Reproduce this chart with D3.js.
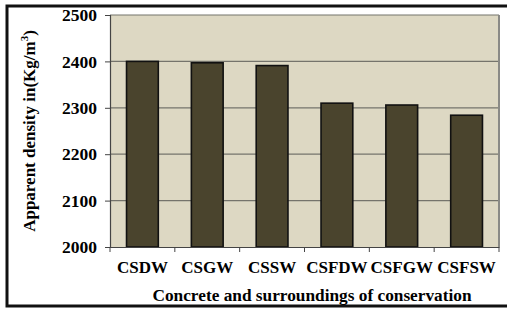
<!DOCTYPE html>
<html>
<head>
<meta charset="utf-8">
<script src="https://cdn.jsdelivr.net/npm/d3@7"></script>
<style>
  body { margin: 0; background: #fff; }
</style>
</head>
<body>
<div id="chart"></div>
<script>
const categories = ["CSDW", "CSGW", "CSSW", "CSFDW", "CSFGW", "CSFSW"];
const density = [2400, 2397, 2391, 2310, 2306, 2284];
const yTicks = [2000, 2100, 2200, 2300, 2400, 2500];

const W = 507, H = 311;
const plot = {left: 110, top: 15, right: 499, bottom: 247};
const FONT = "'Liberation Serif', 'Times New Roman', serif";

const svg = d3.select("#chart").append("svg")
  .attr("width", W).attr("height", H);

// outer frame
svg.append("rect")
  .attr("x", 7).attr("y", 6).attr("width", 520).attr("height", 300)
  .attr("fill", "none").attr("stroke", "#111").attr("stroke-width", 3);

// plot background
svg.append("rect")
  .attr("x", plot.left).attr("y", plot.top)
  .attr("width", plot.right - plot.left).attr("height", plot.bottom - plot.top)
  .attr("fill", "#ddd8c3");

const x = d3.scaleBand().domain(categories).range([plot.left, plot.right]).padding(0);
const y = d3.scaleLinear().domain([2000, 2500]).range([plot.bottom, plot.top]);

// gridlines
svg.append("g").selectAll("line")
  .data(yTicks.slice(1))
  .enter().append("line")
  .attr("x1", plot.left).attr("x2", plot.right)
  .attr("y1", d => y(d)).attr("y2", d => y(d))
  .attr("stroke", "#75746c").attr("stroke-width", 1.2);

// right plot border
svg.append("line")
  .attr("x1", plot.right).attr("x2", plot.right)
  .attr("y1", plot.top).attr("y2", plot.bottom)
  .attr("stroke", "#8a8a86").attr("stroke-width", 2);

// bars
const bw = x.bandwidth() * 0.49;
svg.append("g").selectAll("rect")
  .data(density)
  .enter().append("rect")
  .attr("x", (d, i) => x(categories[i]) + (x.bandwidth() - bw) / 2)
  .attr("y", d => y(d))
  .attr("width", bw)
  .attr("height", d => y(2000) - y(d))
  .attr("fill", "#4a442d")
  .attr("stroke", "#111").attr("stroke-width", 1.6);

// y axis
const yAxis = d3.axisLeft(y).tickValues(yTicks).tickSize(5).tickPadding(8).tickFormat(d3.format("d"));
const gy = svg.append("g").attr("transform", `translate(${plot.left},0)`).call(yAxis);
gy.select(".domain").attr("stroke", "#444").attr("stroke-width", 1.2);
gy.selectAll(".tick line").attr("stroke", "#444");
gy.selectAll("text")
  .style("font-family", FONT).style("font-weight", "bold").style("font-size", "17.5px").attr("fill", "#000");

// x axis
const xAxis = d3.axisBottom(x).tickSize(0).tickPadding(14);
const gx = svg.append("g").attr("transform", `translate(0,${plot.bottom})`).call(xAxis);
gx.select(".domain").attr("stroke", "#444").attr("stroke-width", 1.2);
gx.selectAll("text")
  .style("font-family", FONT).style("font-weight", "bold").style("font-size", "17px").attr("fill", "#000");
// tick marks at category boundaries
svg.append("g").selectAll("line")
  .data(categories.concat(["end"]))
  .enter().append("line")
  .attr("x1", (d, i) => i < categories.length ? x(d) : plot.right)
  .attr("x2", (d, i) => i < categories.length ? x(d) : plot.right)
  .attr("y1", plot.bottom).attr("y2", plot.bottom + 5)
  .attr("stroke", "#444");

// axis titles
svg.append("text")
  .attr("x", 312).attr("y", 301)
  .attr("text-anchor", "middle")
  .style("font-family", FONT).style("font-weight", "bold").style("font-size", "17.3px")
  .text("Concrete and surroundings of conservation");

const yl = svg.append("text")
  .attr("transform", `translate(35,131) rotate(-90)`)
  .attr("text-anchor", "middle")
  .style("font-family", FONT).style("font-weight", "bold").style("font-size", "17px");
yl.append("tspan").text("Apparent density in(Kg/m");
yl.append("tspan").attr("dy", -7).style("font-size", "11px").text("3");
yl.append("tspan").attr("dy", 7).text(")");
</script>
</body>
</html>
